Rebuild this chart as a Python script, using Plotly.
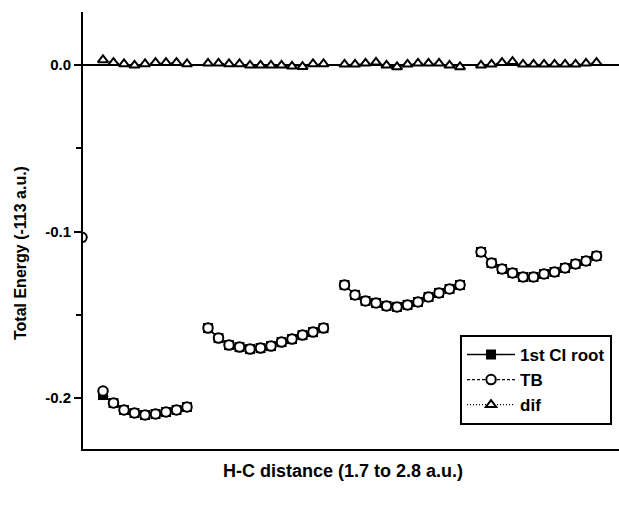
import plotly.graph_objects as go

# distances along each scan (a.u.), 12 points per scan, 4 scans placed side by side
distances = [1.7, 1.8, 1.9, 2.0, 2.1, 2.2, 2.3, 2.4, 2.5, 2.6, 2.7, 2.8]
n_scans = 4
scan_shift = 13  # index units between scan starts

# 1st CI root (energy + 113 a.u.)
ci_scan1 = [None, None, None, -0.1982, -0.2030, -0.2072, -0.2090, -0.2102, -0.2096, -0.2084, -0.2072, -0.2054]
ci_scan2 = [-0.1580, -0.1640, -0.1682, -0.1694, -0.1706, -0.1700, -0.1688, -0.1664, -0.1646, -0.1622, -0.1604, -0.1580]
ci_scan3 = [-0.1321, -0.1381, -0.1417, -0.1429, -0.1447, -0.1453, -0.1441, -0.1423, -0.1393, -0.1369, -0.1345, -0.1321]
ci_scan4 = [-0.1123, -0.1189, -0.1225, -0.1249, -0.1273, -0.1273, -0.1255, -0.1243, -0.1219, -0.1195, -0.1177, -0.1147]

# TB
tb_scan1 = [None, -0.1035, None, -0.1958, -0.2030, -0.2072, -0.2090, -0.2102, -0.2096, -0.2084, -0.2072, -0.2054]
tb_scan2 = [-0.1580, -0.1640, -0.1682, -0.1694, -0.1706, -0.1700, -0.1688, -0.1664, -0.1646, -0.1622, -0.1604, -0.1580]
tb_scan3 = [-0.1321, -0.1381, -0.1417, -0.1429, -0.1447, -0.1453, -0.1441, -0.1423, -0.1393, -0.1369, -0.1345, -0.1321]
tb_scan4 = [-0.1123, -0.1189, -0.1225, -0.1249, -0.1273, -0.1273, -0.1255, -0.1243, -0.1219, -0.1195, -0.1177, -0.1147]

# difference
dif_scan1 = [None, None, None, 0.0030, 0.0014, 0.0006, -0.0002, 0.0006, 0.0014, 0.0014, 0.0014, 0.0006]
dif_scan2 = [0.0010, 0.0010, 0.0006, 0.0006, -0.0002, -0.0002, -0.0002, -0.0002, -0.0008, -0.0010, 0.0006, 0.0006]
dif_scan3 = [0.0004, 0.0004, 0.0010, 0.0016, -0.0002, -0.0012, 0.0004, 0.0010, 0.0010, 0.0010, -0.0002, -0.0012]
dif_scan4 = [-0.0002, 0.0004, 0.0014, 0.0020, 0.0004, 0.0004, 0.0004, 0.0004, 0.0004, 0.0004, 0.0010, 0.0014]

y_tick_vals = [-0.2, -0.1, 0.0]
y_tick_text = ["-0.2", "-0.1", "0.0"]


def build(scans):
    xs, ys = [], []
    for k, scan in enumerate(scans):
        for j, v in enumerate(scan):
            xs.append(k * scan_shift + j)
            ys.append(v)
        xs.append(None)
        ys.append(None)
    return xs, ys


ci_x, ci_y = build([ci_scan1, ci_scan2, ci_scan3, ci_scan4])
tb_x, tb_y = build([tb_scan1, tb_scan2, tb_scan3, tb_scan4])
dif_x, dif_y = build([dif_scan1, dif_scan2, dif_scan3, dif_scan4])

FONT = "Liberation Sans, Arial, sans-serif"

fig = go.Figure()
fig.add_trace(go.Scatter(
    x=ci_x, y=ci_y, name="1st CI root", mode="lines+markers",
    line=dict(color="black", width=1.5),
    marker=dict(symbol="square", size=10, color="black"),
    connectgaps=False,
))
fig.add_trace(go.Scatter(
    x=tb_x, y=tb_y, name="TB", mode="lines+markers",
    line=dict(color="black", width=1.2, dash="3px,2px"),
    marker=dict(symbol="circle", size=9.5, color="white", line=dict(color="black", width=2)),
    connectgaps=False,
))
fig.add_trace(go.Scatter(
    x=dif_x, y=dif_y, name="dif", mode="lines+markers",
    line=dict(color="black", width=1.2, dash="1px,2px"),
    marker=dict(symbol="triangle-up", size=9, color="white", line=dict(color="black", width=2)),
    connectgaps=False,
))

fig.add_shape(type="line", xref="paper", yref="y", x0=0, x1=1, y0=0, y1=0,
              line=dict(color="black", width=2), layer="below")

fig.update_layout(
    width=619, height=505,
    margin=dict(l=83, r=0, t=12, b=56),
    paper_bgcolor="white", plot_bgcolor="white",
    showlegend=True,
    legend=dict(
        x=0.987, y=0.055, xanchor="right", yanchor="bottom",
        bordercolor="black", borderwidth=2, bgcolor="white",
        font=dict(family=FONT, size=17, color="black", weight="bold"),
        tracegroupgap=0, itemwidth=48,
    ),
    xaxis=dict(
        range=[1.095, 52.14], showline=True, linewidth=2, linecolor="black",
        showticklabels=False, ticks="", showgrid=False, zeroline=False,
    ),
    yaxis=dict(
        range=[-0.2306, 0.0318], showline=True, linewidth=2, linecolor="black",
        tickvals=y_tick_vals, ticktext=y_tick_text, ticks="outside",
        ticklen=7, tickwidth=2, tickcolor="black",
        tickfont=dict(family=FONT, size=15, color="black", weight="bold"),
        minor=dict(tickvals=[-0.15, -0.05], ticks="outside", ticklen=5, tickwidth=2, tickcolor="black"),
        showgrid=False, zeroline=False,
    ),
    annotations=[
        dict(text="Total Energy (-113 a.u.)", xref="paper", yref="paper",
             x=-0.1175, y=0.4485, textangle=-90, showarrow=False,
             xanchor="center", yanchor="middle",
             font=dict(family=FONT, size=16, color="black", weight="bold")),
        dict(text="H-C distance (1.7 to 2.8 a.u.)", xref="paper", yref="paper",
             x=0.485, y=-0.05, showarrow=False, xanchor="center", yanchor="middle",
             font=dict(family=FONT, size=18, color="black", weight="bold")),
    ],
)

fig.write_html("out.html")
